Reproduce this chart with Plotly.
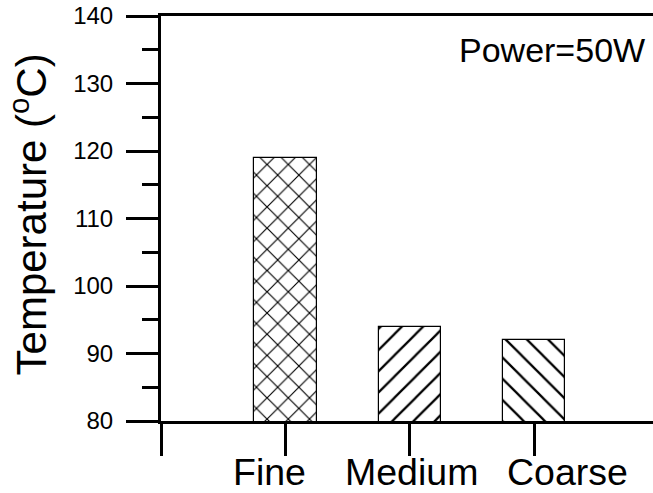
import plotly.graph_objects as go

# Particle size groups and measured temperature at 50 W
categories = ["Fine", "Medium", "Coarse"]
temperature = [119, 94, 92]
hatch = ["x", "/", "\\"]
# horizontal nudge of each category label relative to its tick (px)
label_shift = [-16, 2, 33]

# y-axis tick values
y_ticks = [80, 90, 100, 110, 120, 130, 140]

positions = list(range(len(categories)))

FONT = "Liberation Sans, Arial, sans-serif"

fig = go.Figure(
    go.Bar(
        x=positions,
        y=temperature,
        width=0.5,
        marker=dict(
            color="white",
            line=dict(color="black", width=1.2),
            pattern=dict(
                shape=hatch,
                size=15,
                solidity=0.15,
                fgcolor="black",
                fgopacity=1,
                bgcolor="white",
            ),
        ),
        showlegend=False,
    )
)

fig.update_layout(
    width=653,
    height=493,
    margin=dict(l=161, r=0, t=16, b=72, autoexpand=False),
    paper_bgcolor="white",
    plot_bgcolor="white",
    font=dict(family=FONT, color="black"),
    bargap=0,
)

fig.update_xaxes(
    range=[-1, 2.955],
    tickvals=[-1] + positions,
    showticklabels=False,
    automargin=False,
    ticks="outside",
    ticklen=32,
    tickwidth=3,
    tickcolor="black",
    showline=True,
    linewidth=3,
    linecolor="black",
    mirror=True,
    showgrid=False,
    zeroline=False,
)

fig.update_yaxes(
    range=[80, 140],
    tickvals=y_ticks,
    automargin=False,
    ticks="outside",
    ticklen=32,
    tickwidth=3,
    tickcolor="black",
    ticklabelstandoff=8,
    tickfont=dict(size=24, family=FONT, color="black"),
    minor=dict(dtick=5, ticks="outside", ticklen=16, tickwidth=3, tickcolor="black"),
    showline=True,
    linewidth=3,
    linecolor="black",
    mirror=False,
    showgrid=False,
    zeroline=False,
)

# Category labels under the x ticks
for pos, name, dx in zip(positions, categories, label_shift):
    fig.add_annotation(
        text=name,
        xref="x", yref="paper",
        x=pos, y=0,
        xshift=dx, yshift=-29,
        xanchor="center", yanchor="top",
        borderpad=0,
        showarrow=False,
        font=dict(size=37.5, family=FONT, color="black"),
    )

# Rotated y-axis title
fig.add_annotation(
    text="Temperature (<sup>o</sup>C)",
    xref="paper", yref="paper",
    x=0, y=0.51,
    xshift=-132,
    xanchor="center", yanchor="middle",
    textangle=-90,
    showarrow=False,
    font=dict(size=42, family=FONT, color="black"),
)

# Operating condition label
fig.add_annotation(
    text="Power=50W",
    xref="paper", yref="paper",
    x=1, y=0.916,
    xshift=-6,
    xanchor="right", yanchor="middle",
    showarrow=False,
    font=dict(size=34, family=FONT, color="black"),
)

fig.write_html("out.html")
